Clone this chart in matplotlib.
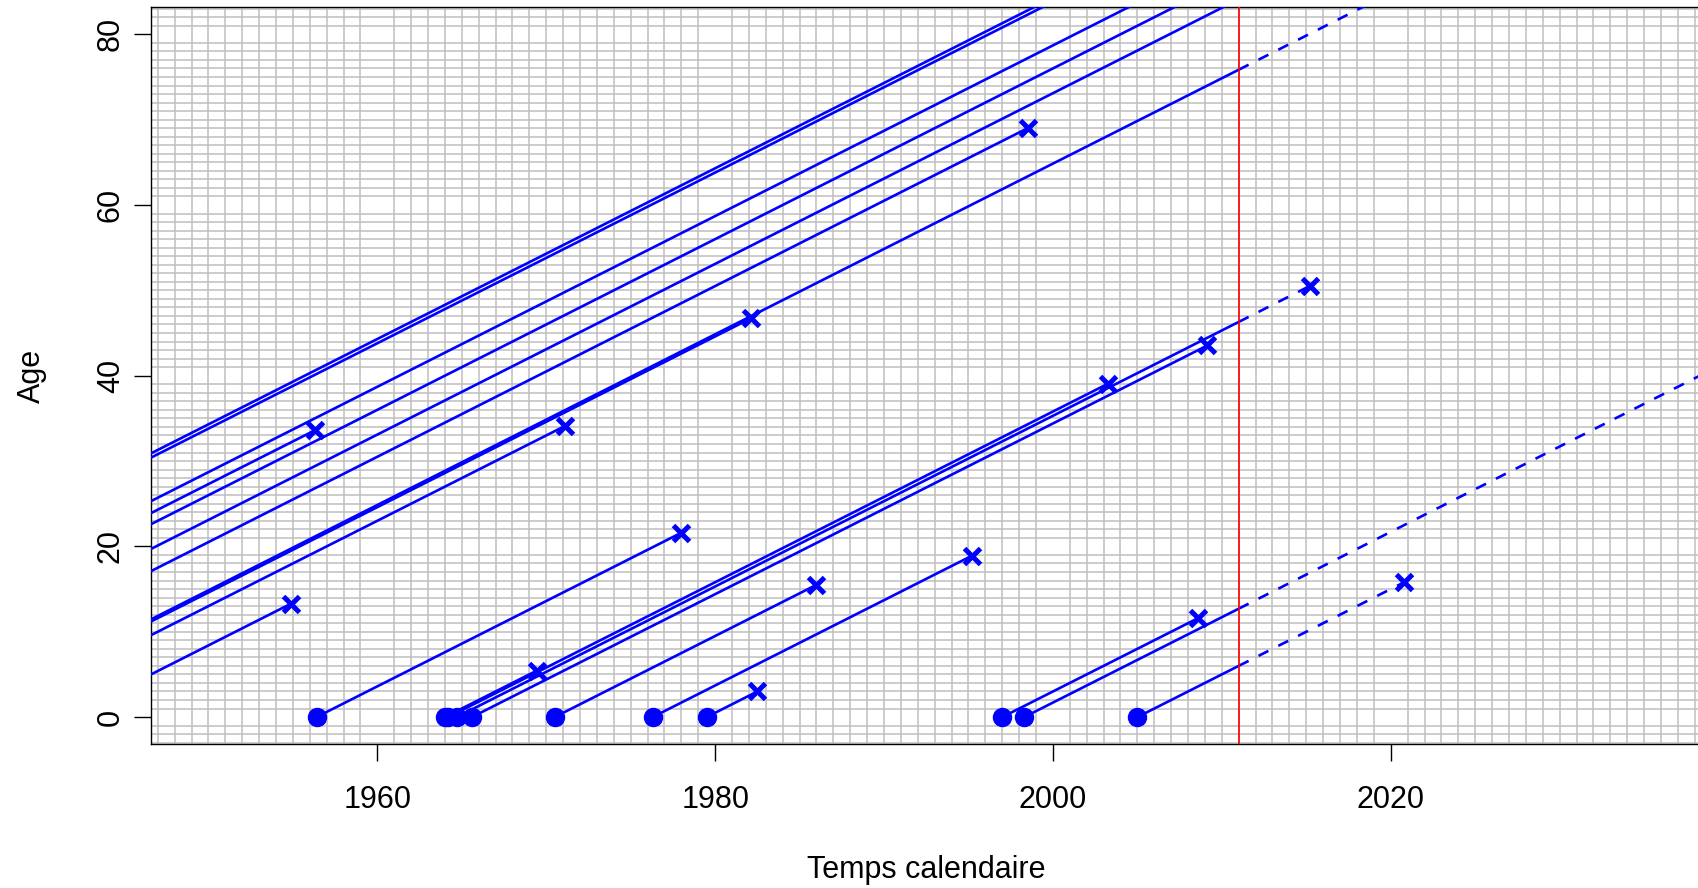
import numpy as np
import matplotlib
matplotlib.use("Agg")
import matplotlib.pyplot as plt

plt.rcParams['font.family'] = ['Liberation Sans', 'DejaVu Sans']

# Lexis data: birth date, entry date, exit date, event indicator
birth = [1915.7, 1916.2, 1921.3, 1922.7, 1924.0, 1926.9, 1929.5, 1935.15, 1935.4, 1937.0, 1941.6,
         1956.4, 1964.0, 1964.2, 1964.7, 1965.6, 1970.5, 1976.3, 1979.5, 1997.0, 1998.3, 2005.0]
entry = [1945.0, 1945.0, 1945.0, 1945.0, 1945.0, 1945.0, 1945.0, 1945.0, 1945.0, 1945.0, 1945.0,
         1956.4, 1964.0, 1964.2, 1964.7, 1965.6, 1970.5, 1976.3, 1979.5, 1997.0, 1998.3, 2005.0]
exit_ = [2011.0, 2011.0, 2011.0, 1956.3, 2011.0, 2011.0, 1998.5, 2030.0, 1982.15, 1971.1, 1954.9,
         1978.0, 1969.45, 2003.25, 2015.2, 2009.15, 1986.0, 1995.2, 1982.5, 2008.6, 2045.0, 2020.8]
event = [0, 0, 0, 1, 0, 0, 1, 0, 1, 1, 1,
         1, 1, 1, 1, 1, 1, 1, 1, 1, 0, 1]

obs_end = 2011.0
xlim = (1946.6, 2038.4)
ylim = (-3.2, 83.2)
xticks = [1960, 1980, 2000, 2020]
yticks = [0, 20, 40, 60, 80]

W, H = 1698, 888
fig = plt.figure(figsize=(W / 100, H / 100), dpi=100)
left, right, top, bottom = 151, 1701.5, 7, 744.4
ax = fig.add_axes([left / W, 1 - bottom / H, (right - left) / W, (bottom - top) / H])

blue = '#0000ff'
for b, en, ex, ev in zip(birth, entry, exit_, event):
    seg_end = min(ex, obs_end)
    ax.plot([en, seg_end], [en - b, seg_end - b], color=blue, lw=1.9, solid_capstyle='butt', zorder=3)
    if ex > obs_end:
        ax.plot([obs_end, ex], [obs_end - b, ex - b], color=blue, lw=1.9,
                linestyle=(0, (4.2, 4.2)), zorder=3)
    if abs(en - b) < 1e-9:
        ax.plot([en], [0], 'o', color=blue, ms=13, zorder=4)
    if ev:
        ax.plot([ex], [ex - b], 'x', color=blue, ms=12, mew=3.6, zorder=4)

ax.axvline(obs_end, color='#ff0000', lw=1.2, zorder=5)

# grid every year
ax.set_xticks(np.arange(1940, 2041, 1), minor=True)
ax.set_yticks(np.arange(-5, 90, 1), minor=True)
ax.grid(which='minor', color='#bebebe', lw=1.1)
ax.set_axisbelow(True)
ax.tick_params(which='minor', length=0)

ax.set_xticks(xticks)
ax.set_yticks(yticks)
ax.set_yticklabels([str(v) for v in yticks], rotation=90, va='center')
ax.tick_params(which='major', length=12, width=1.0, labelsize=22)
ax.tick_params(axis='x', which='major', pad=17)
ax.tick_params(axis='y', which='major', pad=6)
for s in ax.spines.values():
    s.set_linewidth(1.0)
    s.set_color('black')

ax.set_xlim(*xlim)
ax.set_ylim(*ylim)

ax.set_xlabel('Temps calendaire', fontsize=22, labelpad=29)
ax.set_ylabel('Age', fontsize=22, labelpad=35)

fig.savefig('out.png', dpi=100)
